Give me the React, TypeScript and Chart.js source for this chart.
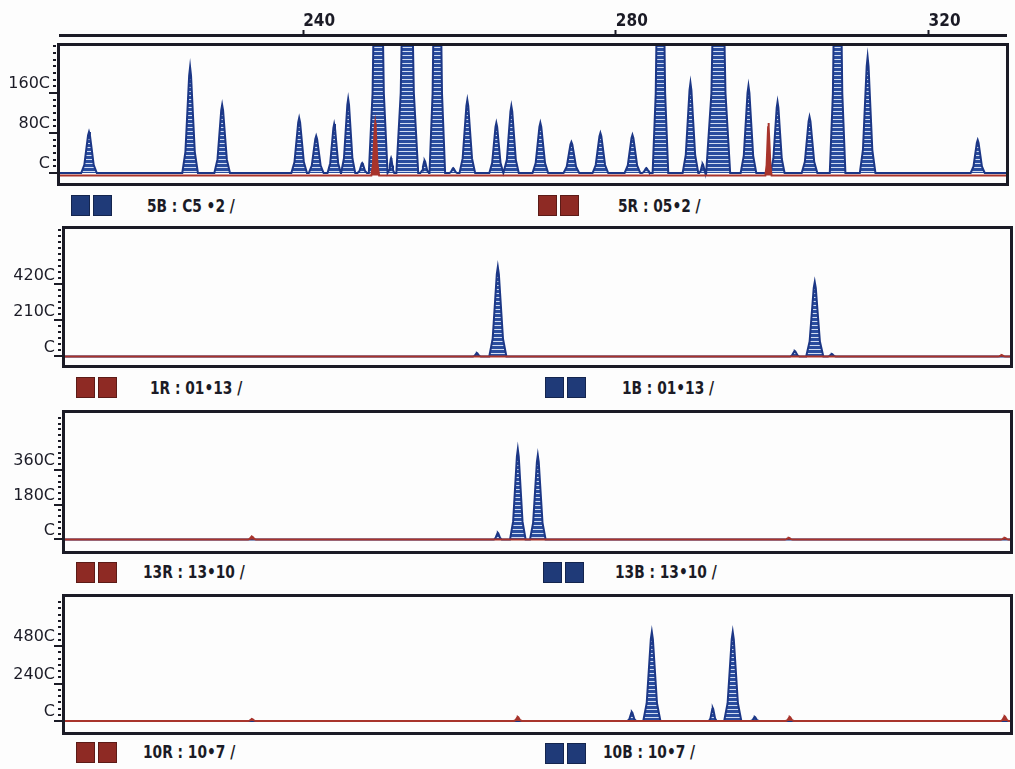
import React, { useEffect, useRef } from "react";
import { Chart, registerables } from "chart.js";

Chart.register(...registerables);

// Fragment size axis (bp)
const sizeMin = 208.9;
const sizeMax = 329.9;
const sizeTicks = [240, 280, 320];

// Lane 5 — blue dye peaks: size (bp), apex height (rfu), half base width (bp)
const lane5BlueSize = [212.61, 225.54, 229.64, 239.49, 241.67, 243.97, 245.76, 247.56, 249.6, 251.25, 253.32, 255.54, 257.16, 259.2, 261.0, 264.71, 266.63, 270.34, 274.31, 278.02, 282.12, 283.9, 285.7, 289.54, 291.1, 293.12, 296.96, 300.68, 304.77, 308.36, 312.2, 326.28];
const lane5BlueHeight = [820, 2120, 1360, 1100, 740, 980, 1480, 200, 8000, 300, 8000, 250, 8000, 100, 1460, 1000, 1340, 1000, 620, 800, 760, 100, 8000, 1800, 180, 8000, 1740, 1420, 1120, 8000, 2320, 660];
const lane5BlueWidth = [1.0, 1.0, 1.0, 1.0, 0.95, 0.85, 0.9, 0.6, 1.2, 0.4, 1.4, 0.55, 1.0, 0.5, 1.0, 0.9, 0.95, 1.0, 1.0, 1.0, 1.0, 0.55, 1.0, 1.0, 0.45, 1.5, 1.0, 0.9, 1.0, 1.0, 1.0, 0.9];
// Lane 5 — red dye
const lane5RedSize = [249.22, 299.52];
const lane5RedHeight = [1000, 1000];
const lane5RedWidth = [0.5, 0.4];
const lane5RedBase = -50;

// Lane 1
const lane1BlueSize = [261.64, 264.32, 302.34, 304.9, 307.08];
const lane1BlueHeight = [200, 5218, 320, 4343, 150];
const lane1BlueWidth = [0.5, 1.1, 0.6, 1.1, 0.5];
const lane1RedSize = [328.84];
const lane1RedHeight = [80];
const lane1RedWidth = [0.5];

// Lane 13
const lane13BlueSize = [264.32, 266.88, 269.44];
const lane13BlueHeight = [340, 4672, 4359];
const lane13BlueWidth = [0.5, 1.0, 1.0];
const lane13RedSize = [232.84, 301.57, 329.22];
const lane13RedHeight = [150, 80, 80];
const lane13RedWidth = [0.5, 0.5, 0.5];

// Lane 10
const lane10BlueSize = [281.48, 284.04, 291.84, 294.4, 297.22];
const lane10BlueHeight = [576, 5696, 832, 5696, 256];
const lane10BlueWidth = [0.55, 1.1, 0.5, 1.1, 0.5];
const lane10RedSize = [232.84, 266.88, 301.7, 329.22];
const lane10RedHeight = [120, 256, 256, 300];
const lane10RedWidth = [0.5, 0.5, 0.5, 0.5];

// Intensity axis ticks and their printed labels
const lane5YTicks = [0, 800, 1600];
const lane5YLabels = ["C", "80C", "160C"];
const lane1YTicks = [0, 2100, 4200];
const lane1YLabels = ["C", "210C", "420C"];
const lane13YTicks = [0, 1800, 3600];
const lane13YLabels = ["C", "180C", "360C"];
const lane10YTicks = [0, 2400, 4800];
const lane10YLabels = ["C", "240C", "480C"];

// Channel captions under each lane
const lane5Captions = ["5B : C5 •2 /", "5R : 05•2 /"];
const lane1Captions = ["1R : 01•13 /", "1B : 01•13 /"];
const lane13Captions = ["13R : 13•10 /", "13B : 13•10 /"];
const lane10Captions = ["10R : 10•7 /", "10B : 10•7 /"];

const INK = "#1b1b26";
const BLUE_LINE = "#1c3786";
const BLUE_SWATCH = "#1f3a78";
const RED = "#a8342c";
const RED_SWATCH = "#8e2a24";
const AXIS_FONT = '"DejaVu Sans", sans-serif';
const CAPTION_FONT = '"DejaVu Sans Condensed", "DejaVu Sans", sans-serif';

type Pt = { x: number; y: number };

// Peak outline: fraction of the half base width at fractions of the peak height
const PROFILE: [number, number][] = [
  [1.0, 0],
  [0.6, 0.2],
  [0.4, 0.5],
  [0.12, 0.92],
];

// Builds a trace polyline from a list of peaks sitting on a flat baseline
function peakTrace(sizes: number[], heights: number[], widths: number[], base = 0): Pt[] {
  const pts: Pt[] = [{ x: sizeMin, y: base }];
  sizes.forEach((s, i) => {
    const h = heights[i];
    const w = widths[i];
    for (const [fx, fy] of PROFILE) pts.push({ x: s - fx * w, y: base + fy * (h - base) });
    pts.push({ x: s, y: h });
    for (let k = PROFILE.length - 1; k >= 0; k--) {
      const [fx, fy] = PROFILE[k];
      pts.push({ x: s + fx * w, y: base + fy * (h - base) });
    }
  });
  pts.push({ x: sizeMax, y: base });
  return pts;
}

function makeHatch(): CanvasPattern | string {
  const c = document.createElement("canvas");
  c.width = 4;
  c.height = 4;
  const g = c.getContext("2d");
  if (!g) return "#2a4d9e";
  g.fillStyle = "#2a4d9e";
  g.fillRect(0, 0, 4, 4);
  g.fillStyle = "#d2ddf2";
  g.fillRect(0, 3, 4, 1);
  return g.createPattern(c, "repeat") ?? "#2a4d9e";
}

type LaneCfg = {
  canvasTop: number;
  canvasH: number;
  padTop: number;
  padBottom: number;
  axisW: number;
  padRight: number;
  yMin: number;
  yMax: number;
  minorStep: number;
  yTicks: number[];
  yLabels: string[];
  blue: [number[], number[], number[]];
  red: [number[], number[], number[]];
  redBase: number;
};

const lanes: LaneCfg[] = [
  {
    canvasTop: 40, canvasH: 150, padTop: 6, padBottom: 7, axisW: 60, padRight: 9,
    yMin: -200, yMax: 2540, minorStep: 800 / 6,
    yTicks: lane5YTicks, yLabels: lane5YLabels,
    blue: [lane5BlueSize, lane5BlueHeight, lane5BlueWidth],
    red: [lane5RedSize, lane5RedHeight, lane5RedWidth],
    redBase: lane5RedBase,
  },
  {
    canvasTop: 222, canvasH: 150, padTop: 7, padBottom: 7, axisW: 65, padRight: 5,
    yMin: -496, yMax: 7433, minorStep: 350,
    yTicks: lane1YTicks, yLabels: lane1YLabels,
    blue: [lane1BlueSize, lane1BlueHeight, lane1BlueWidth],
    red: [lane1RedSize, lane1RedHeight, lane1RedWidth],
    redBase: 0,
  },
  {
    canvasTop: 406, canvasH: 152, padTop: 7, padBottom: 7, axisW: 65, padRight: 5,
    yMin: -600, yMax: 6551, minorStep: 300,
    yTicks: lane13YTicks, yLabels: lane13YLabels,
    blue: [lane13BlueSize, lane13BlueHeight, lane13BlueWidth],
    red: [lane13RedSize, lane13RedHeight, lane13RedWidth],
    redBase: 0,
  },
  {
    canvasTop: 590, canvasH: 149, padTop: 7, padBottom: 7, axisW: 65, padRight: 5,
    yMin: -704, yMax: 7936, minorStep: 400,
    yTicks: lane10YTicks, yLabels: lane10YLabels,
    blue: [lane10BlueSize, lane10BlueHeight, lane10BlueWidth],
    red: [lane10RedSize, lane10RedHeight, lane10RedWidth],
    redBase: 0,
  },
];

// Frame around the plot area plus dotted minor / long major ticks on the intensity axis
const frameAndTicks = {
  id: "frameAndTicks",
  afterDatasetsDraw(chart: any, _args: any, opts: any) {
    const { ctx, chartArea } = chart;
    const y = chart.scales.y;
    ctx.save();
    ctx.strokeStyle = INK;
    ctx.fillStyle = INK;
    ctx.lineWidth = 3;
    ctx.strokeRect(
      chartArea.left - 1.5,
      chartArea.top - 1.5,
      chartArea.right - chartArea.left + 3,
      chartArea.bottom - chartArea.top + 3
    );
    const majors: number[] = opts.majors || [];
    const step: number = opts.step || 0;
    if (step > 0) {
      for (let k = 0; k * step <= y.max; k++) {
        const v = k * step;
        const py = Math.round(y.getPixelForValue(v));
        const isMajor = majors.some((m) => Math.abs(m - v) < 1e-6);
        if (isMajor) {
          ctx.fillRect(chartArea.left - 11, py - 1, 9, 2);
        } else {
          ctx.fillRect(chartArea.left - 7, py - 1, 3, 2);
        }
      }
    }
    ctx.restore();
  },
};

function LaneChart({ cfg }: { cfg: LaneCfg }) {
  const ref = useRef<HTMLCanvasElement | null>(null);
  useEffect(() => {
    if (!ref.current) return;
    const hatch = makeHatch();
    const blue = peakTrace(cfg.blue[0], cfg.blue[1], cfg.blue[2], 0);
    const red = peakTrace(cfg.red[0], cfg.red[1], cfg.red[2], cfg.redBase);
    const chart = new Chart(ref.current, {
      type: "line",
      data: {
        datasets: [
          {
            data: red,
            borderColor: RED,
            backgroundColor: RED,
            borderWidth: 2,
            fill: { value: cfg.redBase },
            pointRadius: 0,
            tension: 0,
          } as any,
          {
            data: blue,
            borderColor: BLUE_LINE,
            backgroundColor: hatch,
            borderWidth: 2,
            fill: "origin",
            pointRadius: 0,
            tension: 0,
          } as any,
        ],
      },
      options: {
        animation: false,
        responsive: false,
        events: [],
        layout: { padding: { left: 0, right: cfg.padRight, top: cfg.padTop, bottom: cfg.padBottom } },
        plugins: {
          legend: { display: false },
          tooltip: { enabled: false },
          frameAndTicks: { majors: cfg.yTicks, step: cfg.minorStep },
        } as any,
        scales: {
          x: { type: "linear", min: sizeMin, max: sizeMax, display: false },
          y: {
            type: "linear",
            min: cfg.yMin,
            max: cfg.yMax,
            afterBuildTicks: (s: any) => {
              s.ticks = cfg.yTicks.map((v) => ({ value: v }));
            },
            afterFit: (s: any) => {
              s.width = cfg.axisW;
              s.paddingTop = 0;
              s.paddingBottom = 0;
            },
            grid: { display: false, drawTicks: false },
            border: { display: false },
            ticks: {
              padding: 10,
              labelOffset: -9,
              color: INK,
              font: { family: AXIS_FONT, size: 16 },
              callback: (_v: any, i: number) => cfg.yLabels[i] ?? "",
            },
          },
        },
      },
      plugins: [frameAndTicks],
    });
    return () => chart.destroy();
  }, [cfg]);
  return (
    <canvas
      ref={ref}
      width={1015}
      height={cfg.canvasH}
      style={{ position: "absolute", left: 0, top: cfg.canvasTop, width: 1015, height: cfg.canvasH }}
    />
  );
}

function SizeRuler() {
  const ref = useRef<HTMLCanvasElement | null>(null);
  useEffect(() => {
    if (!ref.current) return;
    const chart = new Chart(ref.current, {
      type: "line",
      data: { datasets: [] },
      options: {
        animation: false,
        responsive: false,
        events: [],
        layout: { padding: { left: 60, right: 9, top: 0, bottom: 0 } },
        plugins: { legend: { display: false }, tooltip: { enabled: false } },
        scales: {
          x: {
            type: "linear",
            position: "top",
            min: sizeMin,
            max: sizeMax,
            afterBuildTicks: (s: any) => {
              s.ticks = sizeTicks.map((v) => ({ value: v }));
            },
            afterFit: (s: any) => {
              s.height = 35;
              s.paddingLeft = 0;
              s.paddingRight = 0;
            },
            grid: { display: true, drawOnChartArea: false, drawTicks: true, tickLength: 5, tickWidth: 2, tickColor: INK },
            border: { display: true, color: INK, width: 3 },
            ticks: {
              align: "start",
              padding: -2,
              maxRotation: 0,
              autoSkip: false,
              color: INK,
              font: { family: CAPTION_FONT, size: 17, weight: "bold" },
            },
          },
          y: { display: false, min: 0, max: 1 },
        },
      } as any,
    });
    return () => chart.destroy();
  }, []);
  return (
    <canvas
      ref={ref}
      width={1015}
      height={44}
      style={{ position: "absolute", left: 0, top: 0, width: 1015, height: 44 }}
    />
  );
}

function Swatch({ left, top, color }: { left: number; top: number; color: string }) {
  const sq = (dx: number) => (
    <div
      style={{
        position: "absolute",
        left: left + dx,
        top,
        width: 19,
        height: 21,
        background: color,
        boxShadow: "inset 0 0 0 1px rgba(0,0,0,0.35)",
      }}
    />
  );
  return (
    <>
      {sq(0)}
      {sq(22)}
    </>
  );
}

function Caption({ left, cy, text }: { left: number; cy: number; text: string }) {
  return (
    <div
      style={{
        position: "absolute",
        left,
        top: cy - 11,
        height: 22,
        lineHeight: "22px",
        whiteSpace: "pre",
        fontFamily: CAPTION_FONT,
        fontWeight: "bold",
        fontSize: 17,
        color: INK,
        transform: "scaleX(0.9)",
        transformOrigin: "left center",
      }}
    >
      {text}
    </div>
  );
}

export default function App() {
  return (
    <div
      style={{
        position: "absolute",
        left: 0,
        top: 0,
        width: 1015,
        height: 769,
        background: "#fdfdfd",
        overflow: "hidden",
      }}
    >
      <SizeRuler />
      {lanes.map((cfg, i) => (
        <LaneChart key={i} cfg={cfg} />
      ))}

      <Swatch left={71} top={195} color={BLUE_SWATCH} />
      <Caption left={147} cy={206} text={lane5Captions[0]} />
      <Swatch left={538} top={195} color={RED_SWATCH} />
      <Caption left={618} cy={206} text={lane5Captions[1]} />

      <Swatch left={76} top={377} color={RED_SWATCH} />
      <Caption left={150} cy={388} text={lane1Captions[0]} />
      <Swatch left={545} top={377} color={BLUE_SWATCH} />
      <Caption left={622} cy={388} text={lane1Captions[1]} />

      <Swatch left={76} top={562} color={RED_SWATCH} />
      <Caption left={143} cy={572} text={lane13Captions[0]} />
      <Swatch left={543} top={562} color={BLUE_SWATCH} />
      <Caption left={615} cy={572} text={lane13Captions[1]} />

      <Swatch left={76} top={742} color={RED_SWATCH} />
      <Caption left={143} cy={752} text={lane10Captions[0]} />
      <Swatch left={545} top={743} color={BLUE_SWATCH} />
      <Caption left={603} cy={752} text={lane10Captions[1]} />
    </div>
  );
}
